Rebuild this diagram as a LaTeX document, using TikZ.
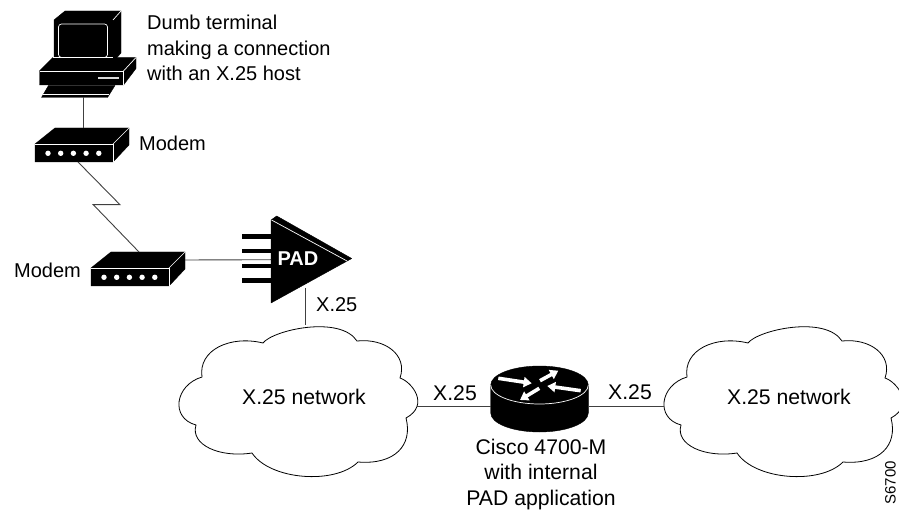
\documentclass[tikz,border=0pt]{standalone}
\usepackage{fontspec}
\setmainfont{Liberation Sans}
\usetikzlibrary{positioning,arrows.meta}

\tikzset{
  label text/.style={font=\fontsize{20}{25.4}\selectfont, inner sep=0pt, align=center},
  big text/.style={font=\fontsize{21.2}{25.4}\selectfont, inner sep=0pt, align=center},
  link/.style={draw=black!75, line width=0.9pt},
  solid part/.style={fill=black, draw=black, line join=round},
  edge white/.style={draw=white, line width=0.7pt},
  cloud line/.style={draw=black, fill=white, line width=0.8pt},
  pics/modem/.style={code={
    \path[solid part] (0,0) -- (20,-16) -- (94,-16) -- (94,1) -- (78,18) -- (0,18) -- cycle;
    \draw[edge white] (0,0) -- (78,0) -- (78,18);
    \draw[edge white] (78,0) -- (94,-16);
    \foreach \i in {0,...,4}
      \fill[white] (13+12.7*\i,9.3) circle (2.7);
    \coordinate (-up) at (48,-16);
    \coordinate (-down) at (43,18);
    \coordinate (-side) at (94,-8);
  }},
  pics/netcloud/.style={code={
    \path[cloud line] (263,343)
      .. controls (273,330) and (340,315) .. (357,341)
      .. controls (385,338) and (408,355) .. (400,378)
      .. controls (412,382) and (430,405) .. (406,418)
      .. controls (413,445) and (395,465) .. (358,462)
      .. controls (335,485) and (270,480) .. (252,453)
      .. controls (220,458) and (190,445) .. (196,425)
      .. controls (170,418) and (175,385) .. (202,377)
      .. controls (198,350) and (230,335) .. (263,343) -- cycle;
  }},
}

\begin{document}
\begin{tikzpicture}[x=1pt, y=-1pt]

  \useasboundingbox (0,0) rectangle (899,510);

  % terminal
  \path[solid part] (54,20) -- (65,11) -- (121,11) -- (121,53) -- (113,62) -- (54,62) -- cycle;
  \draw[edge white] (113,20) -- (121,11);
  \draw[edge white, rounded corners=3pt] (58.5,24) rectangle (107.5,57.5);
  \path[solid part] (39.5,71) -- (53,57.5) -- (136,57.5) -- (136,68.5) -- (123.5,85) -- (39.5,85) -- cycle;
  \draw[edge white] (39.5,71) -- (123.5,71) -- (123.5,85);
  \draw[edge white] (123.5,71) -- (136,57.5);
  \draw[edge white] (53,57.5) -- (113,57.5);
  \fill[white!85!black] (97.5,77.2) rectangle (118.5,79.4);
  \path[solid part] (41.5,97.5) -- (48.5,85.5) -- (115,85.5) -- (107.5,97.5) -- cycle;
  \draw[edge white] (43,94.5) -- (109,94.5);
  \coordinate (terminal) at (83,97.5);

  \pic (modema) at (35,144) {modem};
  \pic (modemb) at (91,268) {modem};

  % pad
  \coordinate (zigup) at (120,204.7);
  \coordinate (zigdown) at (93.3,204.7);
  \foreach \y in {236.7,251.2,266,280.7}
    \fill (241.7,\y-2.3) rectangle (271,\y+2.3);
  \path[solid part] (271,220) -- (276.7,216) -- (351.7,258.5) -- (271,303) -- cycle;
  \draw[edge white] (271.5,220) -- (347,261);
  \node[label text, text=white, font=\fontsize{20}{20}\selectfont\bfseries] (pad) at (298,258.5) {PAD};
  \coordinate (padin) at (271,259.7);
  \coordinate (padout) at (305.8,288);

  % clouds
  \pic (neta) at (0,0) {netcloud};
  \pic (netb) at (485,0) {netcloud};
  \coordinate (netatop) at (305.8,325);
  \coordinate (netaright) at (417,406.7);
  \coordinate (netbleft) at (664,406.7);

  % router
  \path[solid part] (490.7,385) arc[start angle=180, end angle=360, x radius=48.8, y radius=19]
    -- (588.3,413) arc[start angle=0, end angle=180, x radius=48.8, y radius=19] -- cycle;
  \draw[edge white] (490.7,385) arc[start angle=180, end angle=0, x radius=48.8, y radius=19];
  \coordinate (routerleft) at (490.7,406.7);
  \coordinate (routerright) at (588.3,406.7);
  \foreach \xa/\ya/\xb/\yb in {498.3/378.3/531.7/383.3, 540/380.7/558.3/370.7,
                               580.7/390.7/547.3/386, 539.3/388.3/520/400}
    \draw[white, line width=3.6pt, -{Triangle[width=10pt,length=8pt]}] (\xa,\ya) -- (\xb,\yb);

  % links
  \draw[link] (terminal) -- (modema-up);
  \draw[link] (modema-down) -- (zigup) -- (zigdown) -- (modemb-up);
  \draw[link] (modemb-side) -- (padin);
  \draw[link] (padout) -- (netatop);
  \draw[link] (netaright) -- (routerleft);
  \draw[link] (routerright) -- (netbleft);

  % labels
  \node[label text, align=left, anchor=north west] (termtext) at (147,15) {Dumb terminal\\making a connection\\with an X.25 host};
  \node[label text, anchor=west] (modemtexta) at (139,143) {Modem};
  \node[label text, anchor=west] (modemtextb) at (14,270) {Modem};
  \node[label text, anchor=west] (padlink) at (316,305) {X.25};
  \node[big text, anchor=west] (linka) at (433,393) {X.25};
  \node[big text, anchor=west] (linkb) at (608,392) {X.25};
  \node[big text] (neta label) at (304,397) {X.25 network};
  \node[big text] (netb label) at (789,397) {X.25 network};
  \node[big text, anchor=north] (routertext) at (541,439) {Cisco 4700-M\\with internal\\PAD application};
  \node[label text, rotate=90, font=\fontsize{15}{15}\selectfont, anchor=north east] (figid) at (885,461) {S6700};

\end{tikzpicture}
\end{document}
